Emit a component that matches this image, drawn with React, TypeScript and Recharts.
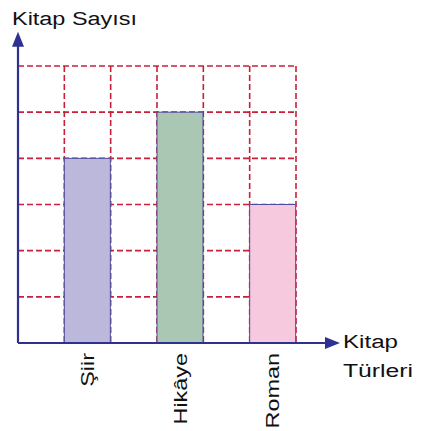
import { BarChart, Bar, Cell, XAxis, YAxis, CartesianGrid, ReferenceLine } from "recharts";

// Kitap türlerine göre kitap sayısı (her kare = 1 kitap)
const turler = ["Şiir", "Hikâye", "Roman"];
const sayilar = [4, 5, 3];
const sutunlar = [1.5, 3.5, 5.5]; // 6 sütunluk ızgarada çubuğun ortası
const renkler = ["#bcb8dc", "#a9c7b3", "#f6c9de"];
const izgara = [0, 1, 2, 3, 4, 5, 6];

const data = turler.map((t, i) => ({ tur: t, x: sutunlar[i], sayi: sayilar[i] }));

const MAVI = "#2e3192";
const KIRMIZI = "#c8203a";
const FONT = "'Liberation Sans', Arial, sans-serif";

function OkluCizgi(p: any) {
  const { x1, y1, x2, y2 } = p;
  const yatay = Math.abs(y2 - y1) < 0.5;
  const uc = yatay
    ? `${x2},${y2} ${x2 - 15},${y2 - 6} ${x2 - 15},${y2 + 6}`
    : `${x2},${y2} ${x2 - 6},${y2 + 15} ${x2 + 6},${y2 + 15}`;
  return (
    <g>
      <line x1={x1} y1={y1} x2={yatay ? x2 - 10 : x2} y2={yatay ? y2 : y2 + 10} stroke={MAVI} strokeWidth={2.2} />
      <polygon points={uc} fill={MAVI} />
    </g>
  );
}

function TurEtiketi(p: any) {
  const { x, y, payload } = p;
  const i = sutunlar.indexOf(payload.value);
  return (
    <text
      transform={`translate(${x + 6.5},${y}) rotate(-90) scale(1.3,1)`}
      textAnchor="end"
      fontSize={18}
      fontFamily={FONT}
      fill="#111"
    >
      {turler[i]}
    </text>
  );
}

const BosTik = () => <g />;

export default function App() {
  return (
    <div style={{ position: "absolute", left: 0, top: 0, width: 426, height: 431, background: "#fff" }}>
      <BarChart
        width={426}
        height={431}
        data={data}
        margin={{ top: 66, right: 130, bottom: 0, left: 0 }}
        barCategoryGap="25%"
      >
        <CartesianGrid stroke={KIRMIZI} strokeWidth={1.6} strokeDasharray="6 3" verticalValues={izgara} />
        <XAxis
          dataKey="x"
          type="number"
          domain={[0, 6]}
          ticks={sutunlar}
          height={88}
          axisLine={false}
          tickLine={false}
          tickSize={0}
          tickMargin={10}
          tick={<TurEtiketi />}
        />
        <YAxis type="number" domain={[0, 6]} ticks={izgara} width={18} tick={<BosTik />} axisLine={false} tickLine={false} />
        <Bar dataKey="sayi" stroke="#4b4ca0" strokeWidth={1} isAnimationActive={false}>
          {data.map((d, i) => (
            <Cell key={d.tur} fill={renkler[i]} />
          ))}
        </Bar>
        <ReferenceLine segment={[{ x: 0, y: 0 }, { x: 6.95, y: 0 }]} ifOverflow="visible" shape={OkluCizgi} />
        <ReferenceLine segment={[{ x: 0, y: 0 }, { x: 0, y: 6.74 }]} ifOverflow="visible" shape={OkluCizgi} />
      </BarChart>
      <svg width={426} height={431} style={{ position: "absolute", left: 0, top: 0, pointerEvents: "none" }}>
        <text x={12} y={25} fontSize={18} fontFamily={FONT} fill="#111" textLength={125} lengthAdjust="spacingAndGlyphs">
          Kitap Sayısı
        </text>
        <text x={343} y={348} fontSize={18} fontFamily={FONT} fill="#111" textLength={55} lengthAdjust="spacingAndGlyphs">
          Kitap
        </text>
        <text x={343} y={377} fontSize={18} fontFamily={FONT} fill="#111" textLength={70} lengthAdjust="spacingAndGlyphs">
          Türleri
        </text>
      </svg>
    </div>
  );
}
